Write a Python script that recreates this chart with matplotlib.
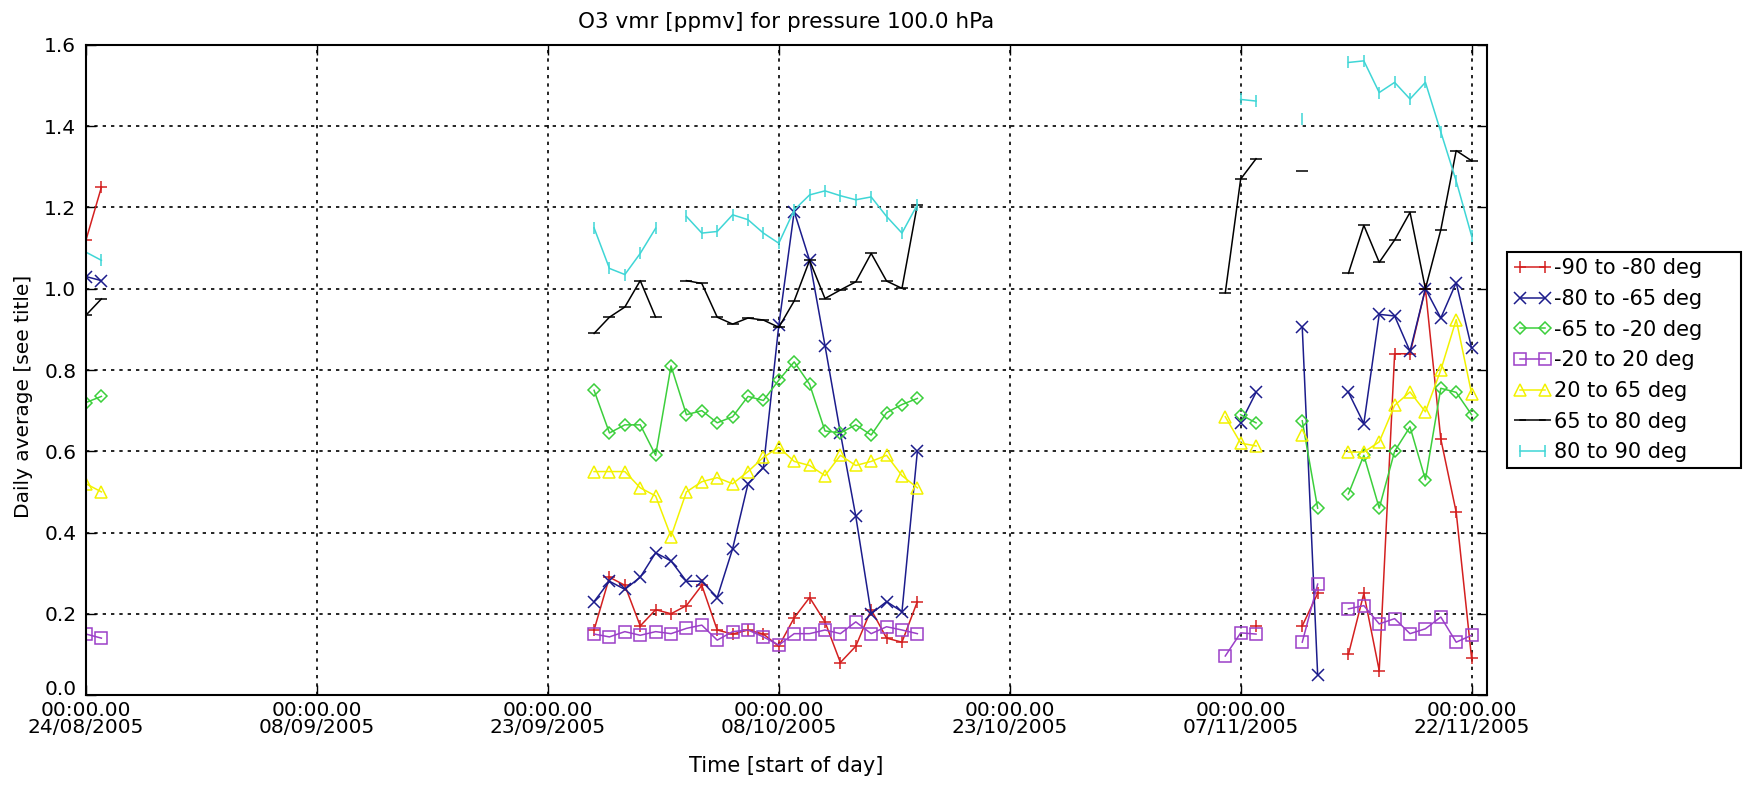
import matplotlib
matplotlib.use('Agg')
import numpy as np
import pandas as pd
import matplotlib.pyplot as plt
import matplotlib.dates as mdates
import matplotlib.ticker as mticker

# days with data, counted from 24/08/2005
start = pd.Timestamp('2005-08-24')
day_offsets = [0, 1,
               33, 34, 35, 36, 37, 38, 39, 40, 41, 42, 43, 44, 45, 46, 47, 48, 49, 50, 51, 52, 53, 54,
               74, 75, 76, 79, 80, 82, 83, 84, 85, 86, 87, 88, 89, 90]

lat_m90_m80 = [1.12, 1.25,
               0.16, 0.29, 0.27, 0.17, 0.21, 0.20, 0.22, 0.27, 0.16, 0.15, 0.16, 0.15, 0.12, 0.19, 0.24, 0.18,
               0.08, 0.12, 0.21, 0.14, 0.13, 0.23,
               None, None, 0.17, 0.17, 0.25, 0.10, 0.25, 0.06, 0.84, 0.84, 1.00, 0.63, 0.45, 0.09]
lat_m80_m65 = [1.03, 1.02,
               0.23, 0.28, 0.26, 0.29, 0.35, 0.33, 0.28, 0.28, 0.24, 0.36, 0.52, 0.56, 0.91, 1.19, 1.07, 0.86,
               0.645, 0.44, 0.20, 0.23, 0.205, 0.60,
               None, 0.67, 0.745, 0.905, 0.05, 0.745, 0.668, 0.937, 0.933, 0.846, 1.00, 0.928, 1.015, 0.854]
lat_m65_m20 = [0.72, 0.735,
               0.75, 0.645, 0.665, 0.665, 0.59, 0.81, 0.69, 0.70, 0.67, 0.685, 0.735, 0.725, 0.775, 0.82, 0.765,
               0.65, 0.645, 0.665, 0.64, 0.695, 0.715, 0.73,
               None, 0.69, 0.67, 0.675, 0.46, 0.495, 0.59, 0.46, 0.60, 0.66, 0.53, 0.755, 0.745, 0.69]
lat_m20_20 = [0.15, 0.14,
              0.15, 0.143, 0.156, 0.147, 0.156, 0.151, 0.164, 0.172, 0.135, 0.156, 0.16, 0.143, 0.123, 0.151,
              0.151, 0.16, 0.151, 0.18, 0.151, 0.168, 0.16, 0.151,
              0.096, 0.153, 0.15, 0.13, 0.273, 0.212, 0.22, 0.175, 0.188, 0.151, 0.163, 0.192, 0.13, 0.147]
lat_20_65 = [0.52, 0.50,
             0.55, 0.55, 0.55, 0.51, 0.49, 0.39, 0.50, 0.525, 0.535, 0.52, 0.55, 0.585, 0.61, 0.575, 0.565,
             0.54, 0.59, 0.565, 0.575, 0.59, 0.54, 0.51,
             0.685, 0.62, 0.613, 0.64, None, 0.598, 0.598, 0.623, 0.713, 0.746, 0.697, 0.80, 0.924, 0.742]
lat_65_80 = [0.935, 0.975,
             0.89, 0.93, 0.955, 1.02, 0.93, None, 1.02, 1.013, 0.93, 0.913, 0.928, 0.923, 0.905, 0.97, 1.07,
             0.976, 0.997, 1.017, 1.087, 1.019, 1.001, 1.207,
             0.99, 1.27, 1.32, 1.29, None, 1.038, 1.156, 1.065, 1.12, 1.188, 1.00, 1.145, 1.34, 1.315]
lat_80_90 = [1.09, 1.07,
             1.15, 1.05, 1.035, 1.087, 1.149, None, 1.178, 1.137, 1.141, 1.182, 1.17, 1.137, 1.112, 1.194,
             1.231, 1.241, 1.229, 1.219, 1.226, 1.178, 1.137, 1.207,
             None, 1.466, 1.462, 1.417, None, 1.557, 1.561, 1.483, 1.508, 1.467, 1.508, 1.386, 1.265, 1.13]

series = [
    ('-90 to -80 deg', lat_m90_m80, '#d42020', '+', 9),
    ('-80 to -65 deg', lat_m80_m65, '#1c1c8c', 'x', 8),
    ('-65 to -20 deg', lat_m65_m20, '#3ccf3c', 'D', 6),
    ('-20 to 20 deg', lat_m20_20, '#9b3fc8', 's', 8),
    ('20 to 65 deg', lat_20_65, '#f2f200', '^', 8),
    ('65 to 80 deg', lat_65_80, '#000000', '_', 9),
    ('80 to 90 deg', lat_80_90, '#3fd6d6', '|', 8),
]


def daily_series(values):
    """Put the values on a daily index so missing days break the line."""
    idx = start + pd.to_timedelta(day_offsets, unit='D')
    s = pd.Series(values, index=idx, dtype=float)
    full = pd.date_range(start, start + pd.Timedelta(days=90), freq='D')
    return s.reindex(full)


W, H = 1746, 787
fig = plt.figure(figsize=(W / 100, H / 100), dpi=100)
ax = fig.add_axes([86 / W, 1 - 695 / H, (1487 - 86) / W, (695 - 45) / H])

for label, vals, color, marker, ms in series:
    s = daily_series(vals)
    ax.plot(s.index, s.values, color=color, marker=marker, markersize=ms,
            markerfacecolor='none', markeredgecolor=color, markeredgewidth=1.1,
            linewidth=1.1, label=label)

ax.set_xlim(start, start + pd.Timedelta(days=91))
ax.set_ylim(0, 1.6)

tick_dates = pd.date_range(start, periods=7, freq='15D')
ax.set_xticks(tick_dates)
ax.xaxis.set_major_formatter(mdates.DateFormatter('%H:%M.00\n%d/%m/%Y'))
ax.set_yticks(np.arange(0, 1.61, 0.2))
ax.yaxis.set_major_formatter(mticker.FormatStrFormatter('%.1f'))

ax.grid(True, color='black', linestyle=(0, (2, 3)), linewidth=1.2)
ax.tick_params(direction='in', length=7, width=1, top=True, right=True,
               labelsize=14.5)
ax.tick_params(axis='x', pad=4)
ax.tick_params(axis='y', pad=7)
for lbl in ax.get_xticklabels():
    lbl.set_linespacing(0.9)
# the bottom value label sits above the axis line, as in the original
ax.get_yticklabels()[0].set_verticalalignment('baseline')
for sp in ax.spines.values():
    sp.set_linewidth(1.5)

ax.set_title('O3 vmr [ppmv] for pressure 100.0 hPa', fontsize=15.5, pad=12)
ax.set_xlabel('Time [start of day]', fontsize=15, labelpad=14)
ax.set_ylabel('Daily average [see title]', fontsize=14.5)
ax.yaxis.set_label_coords(-0.038, 0.46)

leg = fig.legend(loc='upper left', bbox_to_anchor=(1507 / W, 1 - 260 / H, 234 / W, 0.01),
                 mode='expand', fontsize=15, numpoints=2, handlelength=1.8,
                 handletextpad=0.15, labelspacing=0.51, borderaxespad=0,
                 borderpad=0.3, fancybox=False, framealpha=1, edgecolor='black')
leg.get_frame().set_linewidth(1.5)

fig.savefig('out.png', dpi=100)
